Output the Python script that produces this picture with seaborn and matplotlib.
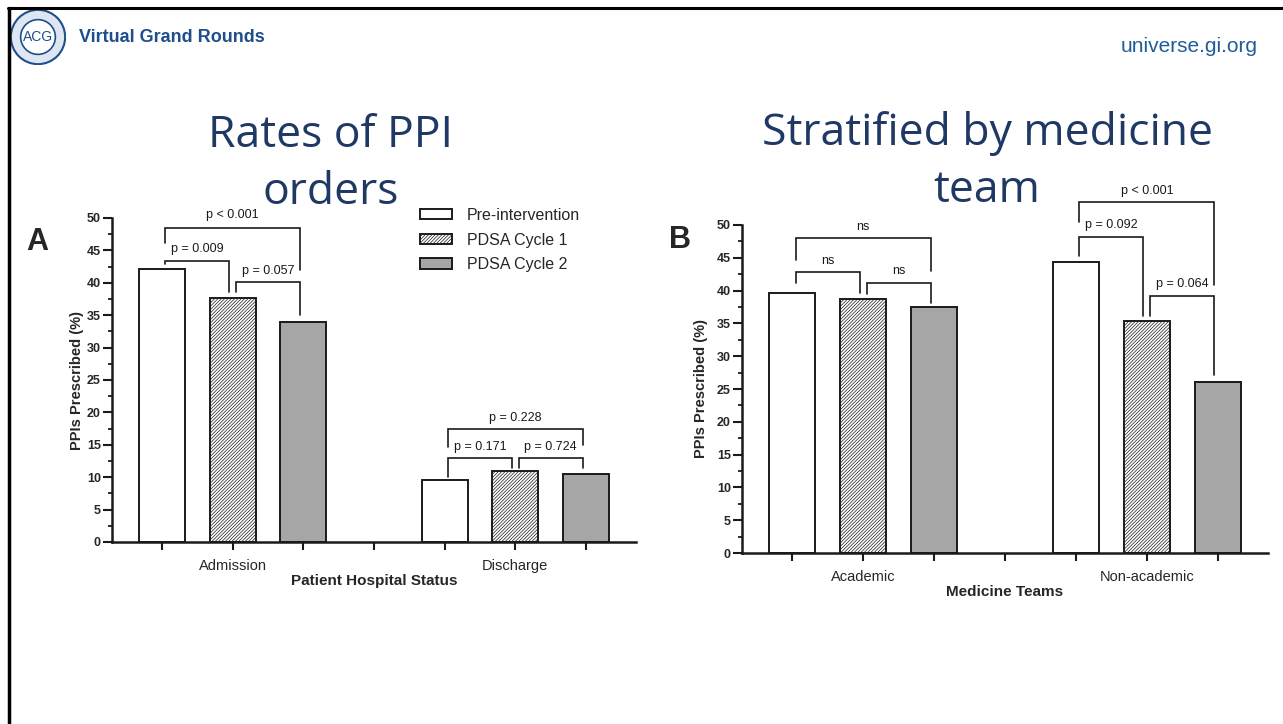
import matplotlib.pyplot as plt
import seaborn as sns
import pandas as pd
from matplotlib.ticker import MultipleLocator
from matplotlib.patches import Circle
from matplotlib.lines import Line2D

phases = ['Pre-intervention', 'PDSA Cycle 1', 'PDSA Cycle 2']

status_groups = ['Admission', 'Discharge']
status_pre = [42.2, 9.6]
status_cycle1 = [37.7, 10.9]
status_cycle2 = [33.9, 10.5]

team_groups = ['Academic', 'Non-academic']
team_pre = [39.7, 44.4]
team_cycle1 = [38.7, 35.4]
team_cycle2 = [37.5, 26.1]

status_pvals = ['p = 0.009', 'p = 0.057', 'p < 0.001', 'p = 0.171', 'p = 0.724', 'p = 0.228']
team_pvals = ['ns', 'ns', 'ns', 'p = 0.092', 'p = 0.064', 'p < 0.001']

# bracket layout: (group, bar i, bar j, line y, left leg end, right leg end, text y)
status_brackets = [(0, 0, 1, 43.4, 42.9, 38.6, 45.2), (0, 1, 2, 40.1, 38.6, 35.0, 41.8),
                   (0, 0, 2, 48.5, 46.1, 42.0, 50.5), (1, 0, 1, 13.0, 10.0, 11.4, 14.7),
                   (1, 1, 2, 13.0, 11.4, 11.4, 14.7), (1, 0, 2, 17.4, 14.7, 15.0, 19.1)]
team_brackets = [(0, 0, 1, 42.8, 41.2, 39.6, 44.5), (0, 1, 2, 41.2, 39.5, 38.1, 43.0),
                 (0, 0, 2, 48.0, 44.7, 43.0, 49.7), (1, 0, 1, 48.2, 45.3, 36.1, 50.0),
                 (1, 1, 2, 39.2, 36.1, 27.1, 41.0), (1, 0, 2, 53.5, 50.5, 40.9, 55.2)]

W, H = 1283, 724
sns.set_theme(style='ticks')
plt.rcParams['font.family'] = ['Liberation Sans', 'DejaVu Sans']
plt.rcParams['hatch.linewidth'] = 0.5
INK = '#1a1a1a'
NAVY = '#203864'


def px(x, y):
    return x / W, 1 - y / H


def draw_panel(ax, groups, pre, c1, c2, xlabel, ypad):
    df = pd.DataFrame({'group': groups * 3,
                       'phase': [p for p in phases for _ in groups],
                       'value': pre + c1 + c2})
    sns.barplot(data=df, x='group', y='value', hue='phase', order=groups, hue_order=phases,
                palette=['white', 'white', '#a6a6a6'], saturation=1, width=0.75, gap=0.35,
                edgecolor=INK, linewidth=1.4, errorbar=None, legend=False, ax=ax)
    for bar in ax.containers[1]:
        bar.set_hatch('//////////')

    centers = sorted(p.get_x() + p.get_width() / 2 for p in ax.patches)
    ticks = centers[:3] + [(centers[2] + centers[3]) / 2] + centers[3:]
    labels = ['', groups[0], '', '', '', groups[1], '']
    ax.set_xticks(ticks, labels=labels)
    ax.set_xlim(centers[0] - 0.177, centers[-1] + 0.177)
    ax.set_ylim(0, 50)
    ax.yaxis.set_major_locator(MultipleLocator(5))
    ax.yaxis.set_minor_locator(MultipleLocator(2.5))
    sns.despine(ax=ax)
    for s in ('left', 'bottom'):
        ax.spines[s].set_linewidth(1.8)
        ax.spines[s].set_color(INK)
    ax.tick_params(axis='x', length=6, width=1.5, pad=6, labelsize=10.5, color=INK)
    ax.tick_params(axis='y', which='major', length=6.5, width=1.5, pad=1.5, labelsize=9, color=INK)
    ax.tick_params(axis='y', which='minor', length=3, width=1.3, color=INK)
    for t in ax.get_yticklabels():
        t.set_fontweight('bold')
    ax.set_xlabel(xlabel, fontsize=11, fontweight='bold', labelpad=1)
    ax.set_ylabel('PPIs Prescribed (%)', fontsize=10.5, fontweight='bold', labelpad=ypad)


def draw_brackets(ax, brackets, pvals):
    bx = [[c.patches[g].get_x() + c.patches[g].get_width() / 2 for c in ax.containers]
          for g in range(2)]
    for (g, i, j, yl, y1, y2, yt), txt in zip(brackets, pvals):
        x1 = bx[g][i] + 0.012
        x2 = bx[g][j] - 0.012
        ax.plot([x1, x1, x2, x2], [y1, yl, yl, y2], color=INK, lw=1.2, clip_on=False,
                solid_joinstyle='miter')
        ax.text((x1 + x2) / 2, yt, txt, ha='center', va='center', fontsize=9,
                color=INK, clip_on=False)


fig = plt.figure(figsize=(W / 100, H / 100), dpi=100)
fig.patch.set_facecolor('white')

ax_a = fig.add_axes([112 / W, 1 - 542 / H, 524 / W, 324 / H])
ax_b = fig.add_axes([742 / W, 1 - 553 / H, 526 / W, 328 / H])

draw_panel(ax_a, status_groups, status_pre, status_cycle1, status_cycle2, 'Patient Hospital Status', 2)
draw_panel(ax_b, team_groups, team_pre, team_cycle1, team_cycle2, 'Medicine Teams', 6)
draw_brackets(ax_a, status_brackets, status_pvals)
draw_brackets(ax_b, team_brackets, team_pvals)

handles = [c.patches[0] for c in ax_a.containers]
fig.legend(handles, phases, loc='upper left', bbox_to_anchor=px(420, 208), frameon=False,
           fontsize=11.5, handlelength=2.0, handleheight=0.6, handletextpad=0.95,
           labelspacing=0.6, borderpad=0, borderaxespad=0)

# panel letters
fig.text(*px(37, 242), 'A', fontsize=22, fontweight='bold', ha='center', va='center')
fig.text(*px(680, 240), 'B', fontsize=22, fontweight='bold', ha='center', va='center')

# slide titles
title_font = ['Open Sans', 'DejaVu Sans']
for x, y, txt in [(331, 136, 'Rates of PPI'), (331, 193, 'orders'),
                  (987, 134, 'Stratified by medicine'), (987, 191, 'team')]:
    fig.text(*px(x, y), txt, fontsize=32, color=NAVY, ha='center', va='center', family=title_font)

# header
fig.text(*px(79, 37), 'Virtual Grand Rounds', fontsize=13, fontweight='bold', color='#1f4e8c',
         ha='left', va='center')
fig.text(*px(1258, 47), 'universe.gi.org', fontsize=15, color='#1f5c99', ha='right', va='center')

logo = fig.add_axes([10 / W, 1 - 65 / H, 56 / W, 56 / H])
logo.set_xlim(-1, 1)
logo.set_ylim(-1, 1)
logo.set_aspect('equal')
logo.axis('off')
logo.add_patch(Circle((0, 0), 0.97, facecolor='#dde6f1', edgecolor='#1f4e8c', lw=1.5))
logo.add_patch(Circle((0, 0), 0.62, facecolor='white', edgecolor='#1f4e8c', lw=1.2))
logo.text(0, 0, 'ACG', fontsize=10, color='#1f4e8c', ha='center', va='center')

# slide frame
fig.add_artist(Line2D([8 / W, 1], [1 - 8 / H, 1 - 8 / H], color='black', lw=2.2))
fig.add_artist(Line2D([9 / W, 9 / W], [0, 1 - 8 / H], color='black', lw=2.5))

fig.savefig('out.png', dpi=100)
